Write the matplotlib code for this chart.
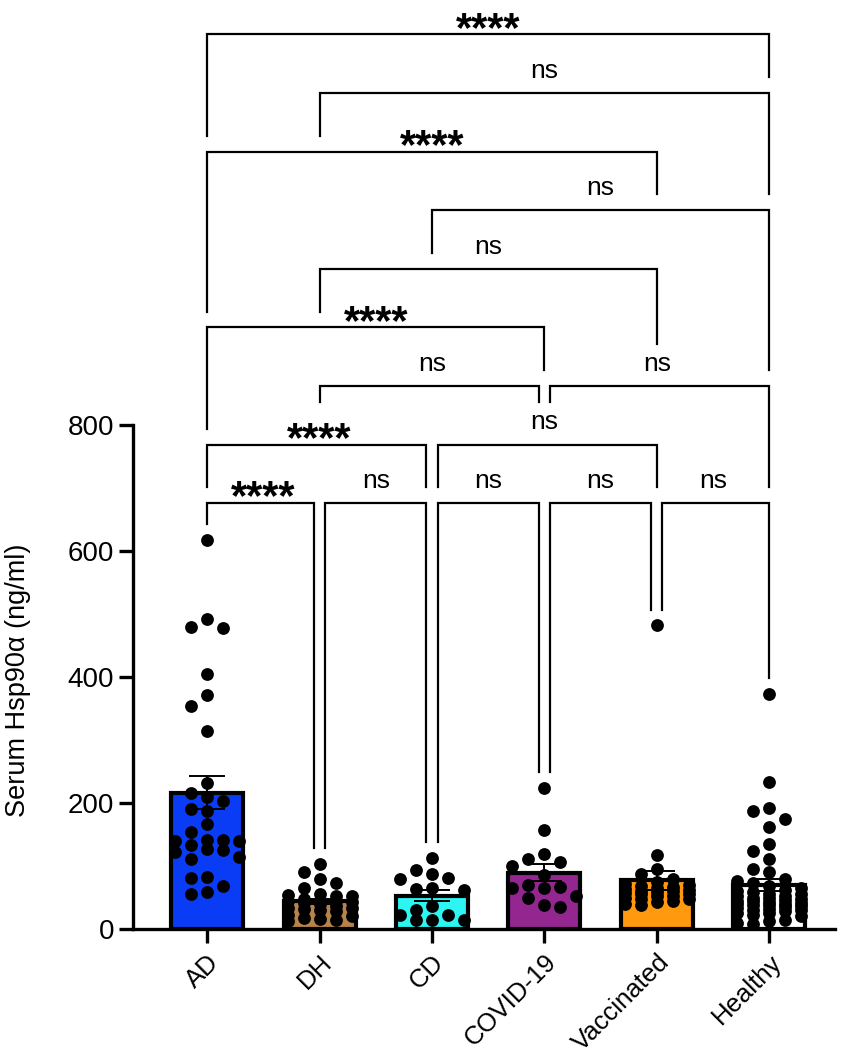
import numpy as np
import matplotlib.pyplot as plt

plt.rcParams['font.family'] = ['Liberation Sans', 'DejaVu Sans']

groups = ['AD', 'DH', 'CD', 'COVID-19', 'Vaccinated', 'Healthy']
colors = ['#0A3CF5', '#B8834B', '#2CF5F2', '#93278F', '#FF9A0E', '#FFFFFF']

# individual serum values (ng/ml)
ad = [618, 479, 478, 492, 404, 372, 354, 314, 232, 216, 203, 209, 190, 188, 166,
      154, 142, 134, 139, 139, 142, 115, 123, 125, 127, 111, 83, 81, 69, 56, 59]
dh = [103, 90, 79, 73, 65, 55, 54, 53, 52, 48, 45, 44, 44, 43, 42, 40, 36, 34,
      33, 32, 30, 28, 22, 20, 18, 16, 15, 12]
cd = [113, 87, 94, 79, 81, 62, 63, 65, 37, 22, 22, 30, 14, 14, 14]
covid = [224, 157, 119, 106, 111, 100, 86, 70, 67, 65, 65, 52, 49, 35, 38]
vacc = [482, 117, 95, 88, 80, 75, 72, 70, 68, 66, 65, 63, 62, 60, 60, 58, 57,
        55, 55, 53, 52, 50, 48, 47, 45, 43, 40, 38]
healthy = [373, 233, 192, 188, 175, 162, 135, 124, 111, 95, 90, 80, 76, 73, 68,
           65, 62, 60, 58, 56, 55, 53, 52, 50, 49, 48, 46, 45, 44, 43, 42, 40,
           40, 38, 36, 35, 33, 32, 30, 28, 25, 22, 20, 15, 12, 10, 8, 38, 30, 25]
values = [ad, dh, cd, covid, vacc, healthy]

# multiple comparisons: pairs, label, bracket level
pairs = [(0, 1), (1, 2), (2, 3), (3, 4), (4, 5), (0, 2), (2, 4), (1, 3), (3, 5),
         (0, 3), (1, 4), (2, 5), (0, 4), (1, 5), (0, 5)]
signif = ['****', 'ns', 'ns', 'ns', 'ns', '****', 'ns', 'ns', 'ns', '****', 'ns',
          'ns', '****', 'ns', '****']
levels = [1, 1, 1, 1, 1, 2, 2, 3, 3, 4, 5, 6, 7, 8, 9]

W, H = 851, 1059
fig = plt.figure(figsize=(W / 100, H / 100), dpi=100)
ax = fig.add_axes([133 / W, 130 / H, 702 / W, 929 / H])
xlo, xhi = -0.66, 5.585
ytop = 929 / 0.63
ax.set_xlim(xlo, xhi)
ax.set_ylim(0, ytop)
ppx = 702 / (xhi - xlo)   # pixels per x unit
ppy = 929 / ytop          # pixels per y unit


# simple column beeswarm so the dots don't sit on top of each other
def swarm(vals, d=12, step=16, maxk=2):
    order = np.argsort(vals)[::-1]
    placed = []
    offs = np.zeros(len(vals))
    ks = [0]
    for k in range(1, maxk + 1):
        ks += [-k, k]
    for i in order:
        y = vals[i] * ppy
        best, bestgap = None, -1
        for k in ks:
            gap = min([abs(y - yy) for kk, yy in placed if kk == k], default=1e9)
            if gap >= d:
                best = k
                break
            if gap > bestgap:
                best, bestgap = k, gap
        placed.append((best, y))
        offs[i] = best * step / ppx
    return offs


x = np.arange(len(groups))
means = [np.mean(v) for v in values]
sems = [np.std(v, ddof=1) / np.sqrt(len(v)) for v in values]

ax.bar(x, means, width=0.64, color=colors, edgecolor='black', linewidth=3, zorder=2)
for i, v in enumerate(values):
    ax.scatter(x[i] + swarm(v), v, s=85, color='black', linewidths=0, zorder=3)
ax.errorbar(x, means, yerr=sems, fmt='none', ecolor='black', elinewidth=1.4,
            capsize=13, capthick=1.4, zorder=4)

# brackets
base, step_y = 676, 93
shift = 0.05
br = []
for (a, b), lab, lv in zip(pairs, signif, levels):
    y = base + (lv - 1) * step_y
    same = [p for p, l in zip(pairs, levels) if l == lv]
    xl = a + shift if any(p[1] == a for p in same) else a
    xr = b - shift if any(p[0] == b for p in same) else b
    br.append((xl, xr, y, lab, lv, (a + b) / 2))


def leg_end(xx, grp, lv):
    # stop the leg a little above whatever sits under it: a bracket, its label, or the dots
    tops = []
    for (l, r, yy, lab, l2, xm) in br:
        if l2 >= lv:
            continue
        halfw = 0.16 if lab == 'ns' else 0.32
        if abs(xx - xm) <= halfw:
            tops.append(yy + 46 + 21)
        elif l - 0.07 <= xx <= r + 0.07:
            tops.append(yy + 25)
    if tops:
        return max(tops)
    return max(values[grp]) + 25


for (xl, xr, y, lab, lv, xm), (a, b) in zip(br, pairs):
    ax.plot([xl, xl, xr, xr], [leg_end(xl, a, lv), y, y, leg_end(xr, b, lv)],
            color='black', lw=1.6, solid_joinstyle='miter', zorder=5)
    if lab == 'ns':
        ax.text(xm, y + 24, lab, ha='center', va='baseline', fontsize=19)
    else:
        ax.text(xm, y - 10, lab, ha='center', va='baseline', fontsize=30,
                fontweight='bold')

for s in ['top', 'right']:
    ax.spines[s].set_visible(False)
ax.spines['left'].set_bounds(0, 800)
ax.spines['left'].set_linewidth(2.4)
ax.spines['bottom'].set_linewidth(2.4)
ax.set_yticks([0, 200, 400, 600, 800])
ax.set_xticks(x)
ax.set_xticklabels(groups, rotation=45, ha='right', rotation_mode='anchor')
ax.tick_params(axis='both', width=2.4, length=10, labelsize=20)
ax.tick_params(axis='x', pad=5, labelsize=18.5)

fig.text(18 / W, 1 - 680 / H, 'Serum Hsp90\u03b1 (ng/ml)', rotation=90,
         ha='center', va='center', fontsize=19.5)

fig.savefig('out.png', dpi=100)
